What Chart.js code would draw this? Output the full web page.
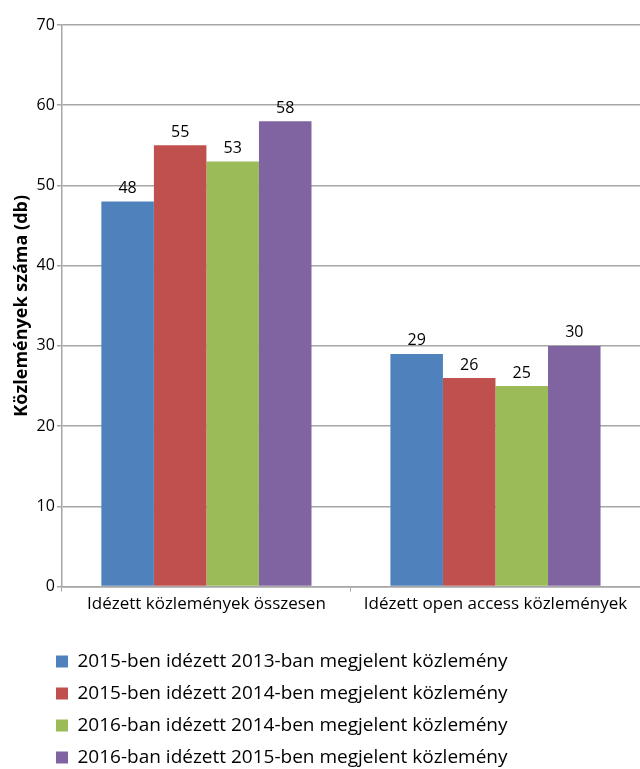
<!DOCTYPE html>
<html>
<head>
<meta charset="utf-8">
<script src="https://cdn.jsdelivr.net/npm/chart.js@4"></script>
<style>
  html, body { margin: 0; padding: 0; background: #fff; }
  #wrap { width: 640px; height: 769px; }
</style>
</head>
<body>
<div id="wrap"><canvas id="myBarChart"></canvas></div>
<script>
    // data
    const categories = ['Idézett közlemények összesen', 'Idézett open access közlemények'];
    const seriesNames = [
      '2015-ben idézett 2013-ban megjelent közlemény',
      '2015-ben idézett 2014-ben megjelent közlemény',
      '2016-ban idézett 2014-ben megjelent közlemény',
      '2016-ban idézett 2015-ben megjelent közlemény'
    ];
    const cited2015from2013 = [48, 29];
    const cited2015from2014 = [55, 26];
    const cited2016from2014 = [53, 25];
    const cited2016from2015 = [58, 30];
    const colors = ['#4F81BD', '#C0504D', '#9BBB59', '#8064A2'];
    const yTicks = [0, 10, 20, 30, 40, 50, 60, 70];

    const fontFam = "'Open Sans', Lato, sans-serif";
    const gridGray = '#A6A6A6';
    const LEGEND_GAP = 15;

    // draw value above each bar
    const valueLabels = {
      id: 'valueLabels',
      afterDatasetsDraw(chart) {
        const ctx = chart.ctx;
        ctx.save();
        ctx.font = '16px ' + fontFam;
        ctx.fillStyle = '#000';
        ctx.textAlign = 'center';
        ctx.textBaseline = 'bottom';
        chart.data.datasets.forEach((ds, i) => {
          chart.getDatasetMeta(i).data.forEach((bar, j) => {
            ctx.fillText(ds.data[j], bar.x, bar.y - 5);
          });
        });
        ctx.restore();
      }
    };

    // gap between axis labels and legend, legend pushed to the left
    const legendPlace = {
      id: 'legendPlace',
      beforeInit(chart) {
        const fit = chart.legend.fit;
        chart.legend.fit = function () {
          fit.bind(chart.legend)();
          this.height += LEGEND_GAP;
        };
      },
      afterLayout(chart) {
        const lg = chart.legend;
        lg.top += LEGEND_GAP + 8;
        lg.left = 43;
      }
    };

    const allSeries = [cited2015from2013, cited2015from2014, cited2016from2014, cited2016from2015];

    const data = {
      labels: categories,
      datasets: allSeries.map((vals, i) => ({
        label: seriesNames[i],
        data: vals,
        backgroundColor: colors[i],
        borderWidth: 0,
        barPercentage: 1.0,
        categoryPercentage: 0.727
      }))
    };

    // config
    const config = {
      type: 'bar',
      data,
      plugins: [valueLabels, legendPlace],
      options: {
        responsive: true,
        maintainAspectRatio: false,
        animation: false,
        layout: { padding: { top: 25, right: 0, left: 9, bottom: 0 } },
        plugins: {
          tooltip: { enabled: false },
          legend: {
            position: 'bottom',
            align: 'start',
            labels: {
              font: { family: fontFam, size: 19 },
              color: '#000',
              boxWidth: 12,
              boxHeight: 12,
              padding: 13
            }
          }
        },
        scales: {
          x: {
            grid: {
              offset: true,
              drawOnChartArea: false,
              drawTicks: true,
              tickLength: 5,
              color: gridGray
            },
            border: { color: gridGray, width: 1.5 },
            ticks: {
              font: { family: fontFam, size: 17 },
              color: '#000',
              maxRotation: 0,
              padding: 2
            }
          },
          y: {
            min: 0,
            max: 70,
            afterBuildTicks: axis => { axis.ticks = yTicks.map(v => ({ value: v })); },
            grid: { color: gridGray, lineWidth: 1.5, tickLength: 5 },
            border: { color: gridGray, width: 1.5 },
            ticks: {
              font: { family: fontFam, size: 16 },
              color: '#000',
              padding: 2
            },
            title: {
              display: true,
              text: 'Közlemények száma (db)',
              font: { family: fontFam, size: 18, weight: 'bold' },
              color: '#000',
              padding: 2
            }
          }
        }
      }
    };

    // render init block
    const myChart = new Chart(
      document.getElementById('myBarChart'),
      config
    );
</script>
</body>
</html>
